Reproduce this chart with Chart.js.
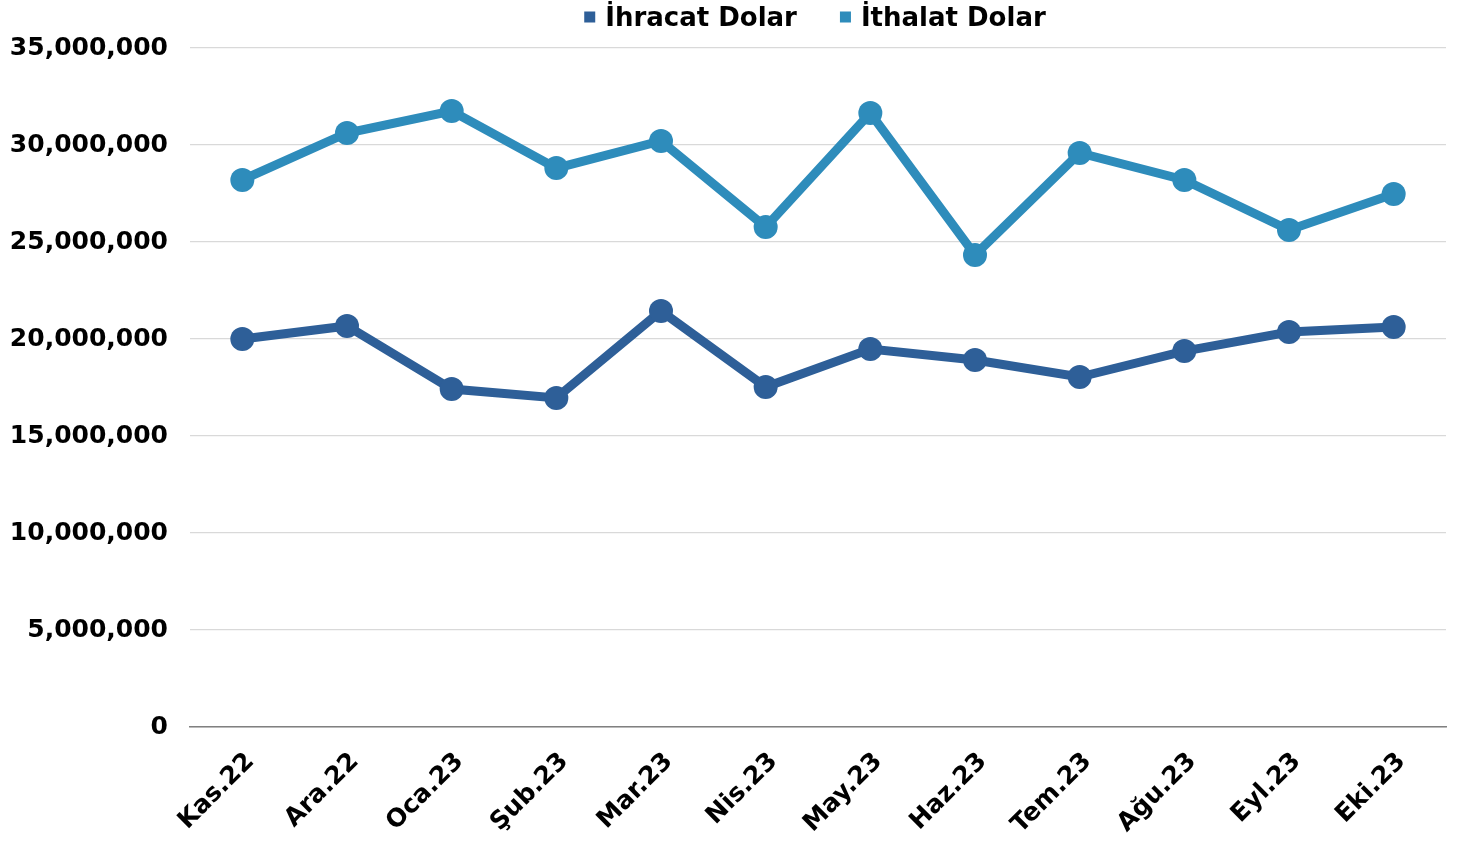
<!DOCTYPE html>
<html><head><meta charset="utf-8">
<script src="https://cdn.jsdelivr.net/npm/chart.js@4"></script>
<style>html,body{margin:0;padding:0;background:#fff}#wrap{width:1464px;height:844px}</style>
</head><body><div id="wrap"><canvas id="c"></canvas></div>
<script>
const categories = ["Kas.22","Ara.22","Oca.23","Şub.23","Mar.23","Nis.23","May.23","Haz.23","Tem.23","Ağu.23","Eyl.23","Eki.23"];
const ihracat = [20000000,20670000,17420000,16960000,21440000,17530000,19480000,18920000,18040000,19380000,20360000,20620000];
const ithalat = [28200000,30620000,31750000,28810000,30210000,25770000,31650000,24330000,29590000,28200000,25620000,27470000];
const seriesNames = ["İhracat Dolar","İthalat Dolar"];
const FONT = "'DejaVu Sans', sans-serif";

const topLegend = {
  id:'topLegend',
  afterDraw(chart){
    const ctx = chart.ctx, ca = chart.chartArea;
    ctx.save();
    ctx.font = "bold 26px " + FONT;
    ctx.textBaseline = 'middle';
    const box = 11, gap = 10, spacing = 43, cy = 19;
    const items = chart.data.datasets.map(d => ({text:d.label, color:d.borderColor, w:ctx.measureText(d.label).width}));
    let total = 0;
    items.forEach((it,i)=>{ total += box + gap + it.w + (i? spacing:0); });
    let x = (ca.left + ca.right)/2 - total/2 - 3;
    items.forEach(it=>{
      ctx.fillStyle = it.color;
      ctx.fillRect(x, cy - box/2 - 2, box, box);
      x += box + gap;
      ctx.fillStyle = '#000';
      ctx.textAlign = 'left';
      ctx.fillText(it.text, x, cy);
      x += it.w + spacing;
    });
    ctx.restore();
  }
};

new Chart(document.getElementById('c'), {
  type: 'line',
  data: {
    labels: categories,
    datasets: [
      {label: seriesNames[0], data: ihracat, borderColor:'#2E5F98', backgroundColor:'#2E5F98', borderWidth:9, pointRadius:12, pointHoverRadius:12, pointBackgroundColor:'#2E5F98', pointBorderWidth:0, tension:0},
      {label: seriesNames[1], data: ithalat, borderColor:'#2E8CBB', backgroundColor:'#2E8CBB', borderWidth:9, pointRadius:12, pointHoverRadius:12, pointBackgroundColor:'#2E8CBB', pointBorderWidth:0, tension:0}
    ]
  },
  plugins:[topLegend],
  options: {
    responsive:true, maintainAspectRatio:false, animation:false,
    layout:{padding:{left:6,right:18,top:48,bottom:0}},
    plugins:{
      legend:{display:false},
      tooltip:{enabled:false}
    },
    scales:{
      x:{offset:true, grid:{display:false}, border:{display:true,color:'#808080',width:1.5},
         afterFit(axis){ axis.height = 117; },
         ticks:{minRotation:45,maxRotation:45,color:'#000',padding:12,labelOffset:8,font:{family:FONT,size:25,weight:'bold'}}},
      y:{min:0,max:35000000, grid:{color:'#d9d9d9',lineWidth:1.2, drawTicks:false}, border:{display:false},
         afterFit(axis){ axis.width = 184; },
         ticks:{stepSize:5000000,padding:22,color:'#000',font:{family:FONT,size:25,weight:'bold'},callback:v=>v.toLocaleString('en-US')}}
    }
  }
});
</script></body></html>
